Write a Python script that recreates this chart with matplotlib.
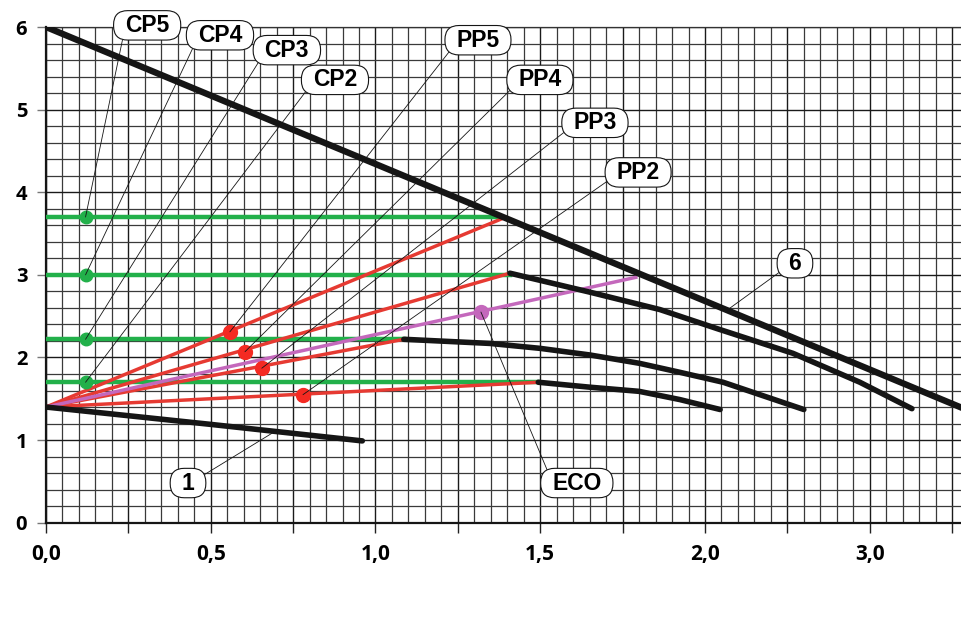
import numpy as np
import matplotlib
matplotlib.use("Agg")
import matplotlib.pyplot as plt
from matplotlib.patches import BoxStyle

# --- data ---
MAX_X = [0.0, 2.78]
MAX_Y = [6.0, 1.39]

CURVE1_X = [0.0, 0.5, 0.96]
CURVE1_Y = [1.40, 1.19, 0.99]

CURVE_A_X = [1.408, 1.651, 1.863, 2.036, 2.267, 2.47, 2.628]
CURVE_A_Y = [3.02, 2.79, 2.58, 2.35, 2.05, 1.70, 1.38]

CURVE_B_X = [1.086, 1.347, 1.50, 1.651, 1.80, 1.924, 2.055, 2.30]
CURVE_B_Y = [2.22, 2.17, 2.11, 2.03, 1.93, 1.82, 1.70, 1.37]

CURVE_C_X = [1.494, 1.651, 1.80, 1.924, 2.046]
CURVE_C_Y = [1.70, 1.64, 1.59, 1.49, 1.37]

ORIGIN = (0.0, 1.40)

# proportional pressure lines (end points) and their marker dots
PP_NAMES = ["PP5", "PP4", "PP3", "PP2"]
PP_END_X = [1.39, 1.408, 1.086, 1.494]
PP_END_Y = [3.69, 3.02, 2.22, 1.70]
PP_DOT_X = [0.558, 0.604, 0.655, 0.78]
PP_DOT_Y = [2.31, 2.07, 1.87, 1.55]

# constant pressure lines
CP_NAMES = ["CP5", "CP4", "CP3", "CP2"]
CP_LEVEL = [3.70, 3.00, 2.22, 1.70]
CP_END_X = [1.38, 1.408, 1.086, 1.494]
CP_DOT_X = 0.12

ECO_END = (1.79, 2.97)
ECO_DOT = (1.32, 2.55)

X_TICKS = [0.0, 0.5, 1.0, 1.5, 2.0, 2.5]
X_TICK_LABELS = ["0,0", "0,5", "1,0", "1,5", "2,0", "3,0"]
Y_TICKS = [0, 1, 2, 3, 4, 5, 6]

# label box positions (data coords)
CP_LABEL_POS = [(0.307, 6.02), (0.528, 5.90), (0.731, 5.72), (0.877, 5.36)]
PP_LABEL_POS = [(1.311, 5.84), (1.499, 5.36), (1.666, 4.84), (1.797, 4.24)]

RED = "#e63a32"
RED_DOT = "#f42a22"
GREEN = "#22b04a"
PURPLE = "#c468bc"
BLACK = "#151515"


def pill(x0, y0, width, height, mutation_size):
    """Stadium shaped label box, wider padding left/right than top/bottom"""
    px, py = 0.5 * mutation_size, 0.14 * mutation_size
    h = height + 2 * py
    return BoxStyle.Round(pad=0, rounding_size=h * 0.48)(x0 - px, y0 - py, width + 2 * px, h, 1)


fig = plt.figure(figsize=(9.62, 6.21), dpi=100)
ax = fig.add_axes([46 / 962, 98.3 / 621, 916 / 962, 495.7 / 621])
ax.set_xlim(0, 2.78)
ax.set_ylim(0, 6)

# grid
ax.set_xticks(np.arange(0, 2.79, 0.25))
ax.set_xticks(np.arange(0, 2.79, 0.05), minor=True)
ax.set_yticks(Y_TICKS)
ax.set_yticks(np.arange(0, 6.01, 0.2), minor=True)
ax.grid(True, which="major", color="#1a1a1a", lw=1.0)
ax.grid(True, which="minor", color="#3a3a3a", lw=0.9)
ax.set_axisbelow(True)

labels = [""] * len(np.arange(0, 2.79, 0.25))
for t, lab in zip(X_TICKS, X_TICK_LABELS):
    labels[int(round(t / 0.25))] = lab
ax.set_xticklabels(labels, fontfamily="Open Sans", fontweight="bold", fontsize=15)
ax.set_yticklabels([str(v) for v in Y_TICKS], fontfamily="Open Sans", fontweight="bold", fontsize=14.5)
ax.tick_params(axis="x", which="major", direction="out", length=7, width=1, color="#222222", pad=8)
ax.tick_params(axis="y", which="major", direction="out", length=6.5, width=1, color="#777777", pad=7)
ax.tick_params(which="minor", length=0)

for side in ["left", "bottom"]:
    ax.spines[side].set_color(BLACK)
    ax.spines[side].set_linewidth(1.6)
ax.spines["top"].set_color("#333333")
ax.spines["top"].set_linewidth(0.9)
ax.spines["right"].set_visible(False)

# constant pressure (green)
for lvl, xe in zip(CP_LEVEL, CP_END_X):
    ax.plot([0, xe], [lvl, lvl], color=GREEN, lw=3.2, zorder=3)

# proportional pressure (red)
for xe, ye in zip(PP_END_X, PP_END_Y):
    ax.plot([ORIGIN[0], xe], [ORIGIN[1], ye], color=RED, lw=2.5, zorder=4)

# eco (purple)
ax.plot([ORIGIN[0], ECO_END[0]], [ORIGIN[1], ECO_END[1]], color=PURPLE, lw=2.5, zorder=5)

# black pump curves
ax.plot(MAX_X, MAX_Y, color=BLACK, lw=4.6, solid_capstyle="round", zorder=6)
for cx, cy in [(CURVE1_X, CURVE1_Y), (CURVE_A_X, CURVE_A_Y),
               (CURVE_B_X, CURVE_B_Y), (CURVE_C_X, CURVE_C_Y)]:
    ax.plot(cx, cy, color=BLACK, lw=4.0, solid_capstyle="round",
            solid_joinstyle="round", zorder=6)

# dots
ax.plot([CP_DOT_X] * len(CP_LEVEL), CP_LEVEL, "o", color=GREEN, ms=9, zorder=7)
ax.plot(PP_DOT_X, PP_DOT_Y, "o", color=RED_DOT, ms=10, zorder=7)
ax.plot([ECO_DOT[0]], [ECO_DOT[1]], "o", color=PURPLE, ms=10, zorder=7)

box = dict(boxstyle=pill, fc="white", ec=BLACK, lw=0.8)
leader = dict(arrowstyle="-", lw=0.6, color=BLACK, shrinkA=0, shrinkB=0, relpos=(0, 0.4))
label_font = dict(fontfamily="Liberation Sans", fontweight="bold", fontsize=16.5,
                  ha="center", va="center", zorder=9, annotation_clip=False)

for name, lvl, pos in zip(CP_NAMES, CP_LEVEL, CP_LABEL_POS):
    ax.annotate(name, xy=(CP_DOT_X, lvl), xytext=pos, bbox=box, arrowprops=leader, **label_font)

for name, dx, dy, pos in zip(PP_NAMES, PP_DOT_X, PP_DOT_Y, PP_LABEL_POS):
    ax.annotate(name, xy=(dx, dy), xytext=pos, bbox=box, arrowprops=leader, **label_font)

ax.annotate("6", xy=(2.067, np.interp(2.067, MAX_X, MAX_Y)), xytext=(2.273, 3.14),
            bbox=box, arrowprops=leader, **label_font)
ax.annotate("ECO", xy=ECO_DOT, xytext=(1.611, 0.48), bbox=box,
            arrowprops=dict(leader, relpos=(0, 0.55)), **label_font)
ax.annotate("1", xy=(0.695, np.interp(0.695, CURVE1_X, CURVE1_Y)), xytext=(0.431, 0.48),
            bbox=box, arrowprops=dict(leader, relpos=(1, 0.6)), **label_font)

fig.savefig("out.png", dpi=100)
